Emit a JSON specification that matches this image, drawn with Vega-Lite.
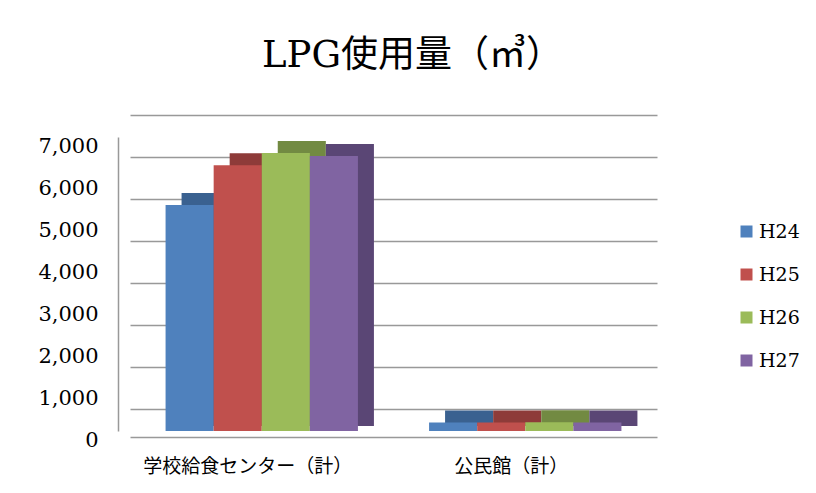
{
  "$schema": "https://vega.github.io/schema/vega-lite/v6.json",
  "autosize": {"type": "none"},
  "width": 527,
  "height": 294,
  "padding": {"left": 130, "top": 137, "right": 159, "bottom": 62},
  "background": "white",
  "title": {
    "text": "LPG使用量（㎥）",
    "font": "DejaVu Serif, Noto Sans CJK JP",
    "fontSize": 37,
    "fontWeight": "normal",
    "color": "#000000",
    "offset": 60,
    "dx": 19,
    "anchor": "middle"
  },
  "data": {
    "values": [
      {"facility": "学校給食センター（計）", "year": "H24", "value": 5380},
      {"facility": "学校給食センター（計）", "year": "H25", "value": 6330},
      {"facility": "学校給食センター（計）", "year": "H26", "value": 6620},
      {"facility": "学校給食センター（計）", "year": "H27", "value": 6550},
      {"facility": "公民館（計）", "year": "H24", "value": 200},
      {"facility": "公民館（計）", "year": "H25", "value": 200},
      {"facility": "公民館（計）", "year": "H26", "value": 210},
      {"facility": "公民館（計）", "year": "H27", "value": 205}
    ]
  },
  "encoding": {
    "x": {
      "field": "facility",
      "type": "nominal",
      "sort": ["学校給食センター（計）", "公民館（計）"],
      "scale": {"paddingInner": 0.27, "paddingOuter": 0.135},
      "axis": {
        "title": null,
        "offset": 6,
        "ticks": false,
        "grid": false,
        "labelAngle": 0,
        "labelLimit": 0,
        "labelPadding": 20,
        "labelOffset": -14,
        "labelFont": "Noto Sans CJK JP",
        "labelFontSize": 19,
        "labelColor": "#000000",
        "domainColor": "#999999",
        "domainWidth": 1.5
      }
    },
    "y": {
      "field": "value",
      "type": "quantitative",
      "stack": null,
      "scale": {"domain": [0, 7000], "nice": false},
      "axis": {
        "title": null,
        "values": [0, 1000, 2000, 3000, 4000, 5000, 6000, 7000],
        "format": ",d",
        "offset": 12,
        "ticks": false,
        "grid": true,
        "tickOffset": -22,
        "labelOffset": 31,
        "labelPadding": 20,
        "labelFont": "DejaVu Serif",
        "labelFontSize": 21,
        "labelColor": "#000000",
        "domainColor": "#999999",
        "domainWidth": 1.5,
        "gridColor": "#999999",
        "gridWidth": 1.5
      }
    }
  },
  "layer": [
    {
      "mark": {"type": "bar", "yOffset": -12, "y2Offset": -5},
      "encoding": {
        "y2": {"datum": 0},
        "xOffset": {
          "field": "year",
          "type": "nominal",
          "sort": ["H24", "H25", "H26", "H27"],
          "scale": {"range": [16, 208.355], "paddingInner": 0, "paddingOuter": 0}
        },
        "color": {
          "field": "year",
          "type": "nominal",
          "scale": {"domain": ["H24", "H25", "H26", "H27"], "range": ["#3A6190", "#8E3B39", "#728A42", "#5A4675"]},
          "legend": null
        }
      }
    },
    {
      "mark": {"type": "bar"},
      "encoding": {
        "xOffset": {
          "field": "year",
          "type": "nominal",
          "sort": ["H24", "H25", "H26", "H27"],
          "scale": {"paddingInner": 0, "paddingOuter": 0}
        },
        "color": {
          "field": "year",
          "type": "nominal",
          "scale": {"domain": ["H24", "H25", "H26", "H27"], "range": ["#4F81BD", "#C0504D", "#9BBB59", "#8064A2"]},
          "legend": {
            "orient": "none",
            "legendX": 607,
            "legendY": 85,
            "title": null,
            "symbolType": "square",
            "symbolSize": 144,
            "symbolStrokeWidth": 0,
            "labelFont": "DejaVu Serif",
            "labelFontSize": 19,
            "labelColor": "#000000",
            "rowPadding": 23,
            "labelOffset": 3
          }
        }
      }
    }
  ],
  "resolve": {"scale": {"color": "independent", "xOffset": "independent"}},
  "config": {"view": {"stroke": null}}
}
